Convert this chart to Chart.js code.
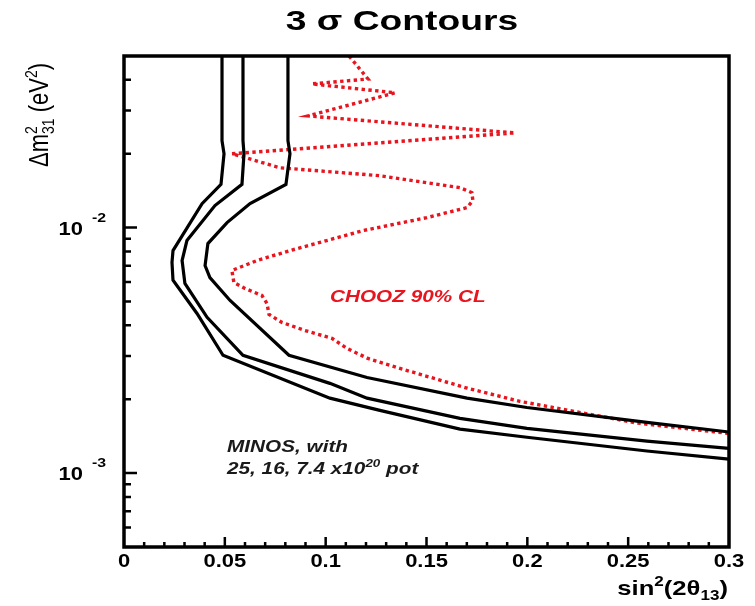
<!DOCTYPE html>
<html>
<head>
<meta charset="utf-8">
<title>3 σ Contours</title>
<script src="https://cdn.jsdelivr.net/npm/chart.js@4.4.0/dist/chart.umd.min.js"></script>
<style>
  body { margin: 0; background: #fff; }
  canvas { display: block; }
</style>
</head>
<body>
<canvas id="contours" width="755" height="606"></canvas>
<script>
// MINOS 3 sigma contours for three exposures (x10^20 pot)
const minos25X = [0.0486, 0.0486, 0.0496, 0.0481, 0.0387, 0.0243, 0.0238, 0.0243, 0.0362, 0.0491, 0.1021, 0.1269, 0.1666, 0.1998, 0.2593, 0.3];
const minos25Y = [0.05, 0.0226, 0.0200, 0.0150, 0.01252, 0.00806, 0.00721, 0.00610, 0.00447, 0.00302, 0.00202, 0.00180, 0.00151, 0.00140, 0.00123, 0.00114];

const minos16X = [0.0590, 0.0590, 0.0595, 0.0585, 0.0451, 0.0312, 0.0288, 0.0302, 0.0412, 0.0590, 0.1021, 0.1205, 0.1666, 0.1998, 0.2593, 0.3];
const minos16Y = [0.05, 0.0226, 0.0200, 0.0150, 0.01229, 0.00886, 0.00734, 0.00592, 0.00431, 0.00302, 0.00232, 0.00202, 0.00167, 0.00152, 0.00135, 0.00126];

const minos74X = [0.0813, 0.0813, 0.0823, 0.0803, 0.0625, 0.0511, 0.0416, 0.0402, 0.0426, 0.0526, 0.0818, 0.1205, 0.1701, 0.1998, 0.2593, 0.3];
const minos74Y = [0.05, 0.0226, 0.0200, 0.0150, 0.01252, 0.01048, 0.00861, 0.00701, 0.00626, 0.00505, 0.00302, 0.00245, 0.00202, 0.00185, 0.00161, 0.00147];

// CHOOZ 90% CL exclusion
const choozX = [0.1116, 0.1210, 0.0932, 0.1344, 0.0912, 0.1939, 0.0535, 0.0773, 0.1269, 0.1666, 0.1725,
  0.1730, 0.1701, 0.1502, 0.1185, 0.0823, 0.0659, 0.0535, 0.0545, 0.0600, 0.0684, 0.0709, 0.0719,
  0.0783, 0.0897, 0.1031, 0.1106, 0.1210, 0.1368, 0.1701, 0.1963, 0.2543, 0.3];
const choozY = [0.05, 0.0403, 0.0385, 0.0354, 0.0285, 0.0243, 0.0200, 0.01753, 0.01627, 0.01454, 0.01388,
  0.01288, 0.01206, 0.01098, 0.00972, 0.00806, 0.00734, 0.00669, 0.00597, 0.00565, 0.00529, 0.00491, 0.00443,
  0.00411, 0.00381, 0.00354, 0.00322, 0.00293, 0.00267, 0.00222, 0.00196, 0.00160, 0.00145];

// axes
const xMin = 0, xMax = 0.3;
const yMin = 5e-4, yMax = 5e-2;
const xMajorTicks = [0, 0.05, 0.1, 0.15, 0.2, 0.25, 0.3];
const xTickLabels = ['0', '0.05', '0.1', '0.15', '0.2', '0.25', '0.3'];
const yDecades = [1e-3, 1e-2];
const yDecadeExps = ['-3', '-2'];

const FONT = '"Liberation Sans", Arial, Helvetica, sans-serif';
const STRETCH = 1.22; // lettering is set wide in this figure

function toPoints(xs, ys) {
  return xs.map((x, i) => ({ x: x, y: ys[i] }));
}

// parts: [text, shift, stacked] where shift 1 = superscript, -1 = subscript
function drawRich(ctx, parts, x, y, opts) {
  const size = opts.size;
  const small = Math.round(size * 0.65);
  const fontFor = (p) => [opts.style || 'normal', opts.weight || 'normal', (p[1] ? small : size) + 'px', FONT].join(' ');

  const widths = parts.map(p => { ctx.font = fontFor(p); return ctx.measureText(p[0]).width; });
  let total = 0;
  parts.forEach((p, i) => { if (!p[2]) total += widths[i]; });

  ctx.save();
  ctx.translate(x, y);
  ctx.scale(opts.stretch || STRETCH, 1);
  if (opts.rotate) ctx.rotate(opts.rotate);
  ctx.fillStyle = opts.color || '#000';
  ctx.textAlign = 'left';
  ctx.textBaseline = 'alphabetic';
  let cx = opts.align === 'right' ? -total : (opts.align === 'center' ? -total / 2 : 0);
  parts.forEach((p, i) => {
    ctx.font = fontFor(p);
    let dy = 0;
    if (p[1] > 0) dy = -size * 0.42;
    if (p[1] < 0) dy = size * 0.24;
    ctx.fillText(p[0], cx, dy);
    if (!p[2]) cx += widths[i];
  });
  ctx.restore();
}

const figureDecor = {
  id: 'figureDecor',
  afterDatasetsDraw(chart) {
    const ctx = chart.ctx;
    const a = chart.chartArea;
    const xs = chart.scales.x;
    const ys = chart.scales.y;

    ctx.save();
    ctx.strokeStyle = '#000';
    ctx.lineCap = 'butt';

    // inward ticks along the bottom
    ctx.lineWidth = 2.5;
    ctx.beginPath();
    for (let i = 1; i < 30; i++) {
      const px = xs.getPixelForValue(i * 0.01);
      const len = (i % 5 === 0) ? 10 : 5;
      ctx.moveTo(px, a.bottom);
      ctx.lineTo(px, a.bottom - len);
    }
    // inward ticks along the left
    [1e-4, 1e-3, 1e-2].forEach(d => {
      for (let m = 1; m <= 9; m++) {
        const v = m * d;
        if (v <= yMin || v >= yMax) continue;
        const py = ys.getPixelForValue(v);
        ctx.moveTo(a.left, py);
        ctx.lineTo(a.left + (m === 1 ? 13 : 7), py);
      }
    });
    ctx.stroke();

    // frame
    ctx.lineWidth = 3.5;
    ctx.strokeRect(a.left, a.top, a.right - a.left, a.bottom - a.top);
    ctx.restore();

    // tick labels
    xMajorTicks.forEach((v, i) => {
      drawRich(ctx, [[xTickLabels[i], 0]], xs.getPixelForValue(v), a.bottom + 20, { size: 18, weight: 'bold', align: 'center' });
    });
    yDecades.forEach((v, i) => {
      const py = ys.getPixelForValue(v);
      drawRich(ctx, [['10', 0]], 83, py + 7, { size: 18, weight: 'bold', align: 'right' });
      drawRich(ctx, [[yDecadeExps[i], 0]], 92, py - 6, { size: 13, weight: 'bold' });
    });

    // titles
    drawRich(ctx, [['3 σ Contours', 0]], 402, 30, { size: 28, weight: 'bold', align: 'center', stretch: 1.33 });
    drawRich(ctx, [['sin', 0], ['2', 1], ['(2θ', 0], ['13', -1], [')', 0]], 728, 595,
      { size: 21, weight: 'bold', align: 'right' });
    drawRich(ctx, [['Δm', 0], ['2', 1, true], ['31', -1], [' (eV', 0], ['2', 1], [')', 0]], 48, 167,
      { size: 22, rotate: -Math.PI / 2 });

    // annotations
    drawRich(ctx, [['CHOOZ 90% CL', 0]], 330, 302, { size: 17, weight: 'bold', style: 'italic', color: '#e8141e' });
    drawRich(ctx, [['MINOS, with', 0]], 227, 452, { size: 17, weight: 'bold', style: 'italic', color: '#1a1a1a' });
    drawRich(ctx, [['25, 16, 7.4 x10', 0], ['20', 1], [' pot', 0]], 227, 474,
      { size: 17, weight: 'bold', style: 'italic', color: '#1a1a1a' });
  }
};

const contourStyle = { borderColor: '#000', borderWidth: 3.2, pointRadius: 0, tension: 0, fill: false };

new Chart(document.getElementById('contours'), {
  type: 'line',
  data: {
    datasets: [
      Object.assign({ label: '25x10^20 pot', data: toPoints(minos25X, minos25Y) }, contourStyle),
      Object.assign({ label: '16x10^20 pot', data: toPoints(minos16X, minos16Y) }, contourStyle),
      Object.assign({ label: '7.4x10^20 pot', data: toPoints(minos74X, minos74Y) }, contourStyle),
      {
        label: 'CHOOZ 90% CL',
        data: toPoints(choozX, choozY),
        borderColor: '#e8141e',
        borderWidth: 3.4,
        borderDash: [3.4, 3.4],
        pointRadius: 0,
        tension: 0,
        fill: false
      }
    ]
  },
  options: {
    responsive: false,
    animation: false,
    devicePixelRatio: 1,
    layout: { padding: { left: 124, top: 56, right: 26, bottom: 59 } },
    scales: {
      x: { type: 'linear', min: xMin, max: xMax, display: false },
      y: { type: 'logarithmic', min: yMin, max: yMax, display: false }
    },
    plugins: {
      legend: { display: false },
      tooltip: { enabled: false }
    }
  },
  plugins: [figureDecor]
});
</script>
</body>
</html>
